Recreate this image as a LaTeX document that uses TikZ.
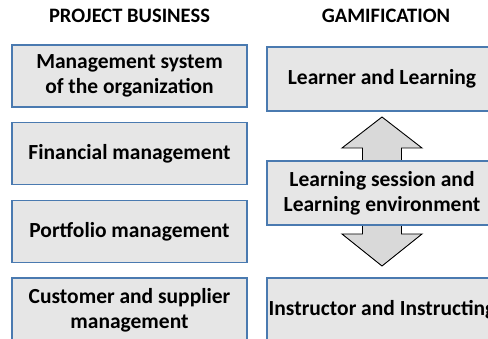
\documentclass[tikz,border=0pt]{standalone}
\usepackage{fontspec}
\setmainfont{Carlito}
\usetikzlibrary{calc}
\definecolor{boxfill}{HTML}{E6E6E6}
\definecolor{boxline}{HTML}{4A7AB0}
\definecolor{arrowfill}{HTML}{D9D9D9}
\begin{document}
\begin{tikzpicture}[x=1pt,y=-1pt,
    box/.style={draw=boxline, line width=1.1pt, fill=boxfill, align=center, font=\fontsize{21.5}{25}\selectfont\bfseries, inner sep=0pt},
    head/.style={font=\fontsize{20.5}{24}\selectfont\bfseries},
    blockarrow/.style={draw=black, line width=0.9pt, fill=arrowfill, line join=miter}]
    \useasboundingbox (0,0) rectangle (488,339);
    \node [head] (pb) at (129.5,16) {PROJECT BUSINESS};
    \node [head] (gm) at (386,16) {GAMIFICATION};
    \node [box, minimum width=235pt, minimum height=62pt] (mso) at (129.5,76) {Management system\\of the organization};
    \node [box, minimum width=235pt, minimum height=62pt] (fin) at (129.5,153.5) {Financial management};
    \node [box, minimum width=235pt, minimum height=62pt] (pfm) at (129.5,231.5) {Portfolio management};
    \node [box, minimum width=235pt, minimum height=64pt] (csm) at (129.5,310) {Customer and supplier\\management};
    \draw [blockarrow] (362.5,166) -- (362.5,148) -- (342,148) -- (382,117) -- (422,148) -- (401.5,148) -- (401.5,166);
    \draw [blockarrow] (362.5,220) -- (362.5,234) -- (342,234) -- (382,266) -- (422,234) -- (401.5,234) -- (401.5,220);
    \node [box, minimum width=230pt, minimum height=64pt] (ll) at (382,79) {Learner and Learning};
    \node [box, minimum width=230pt, minimum height=64pt] (ls) at (382,193) {Learning session and\\Learning environment};
    \node [box, minimum width=230pt, minimum height=64pt] (ii) at (382,310) {Instructor and Instructing};
\end{tikzpicture}
\end{document}
